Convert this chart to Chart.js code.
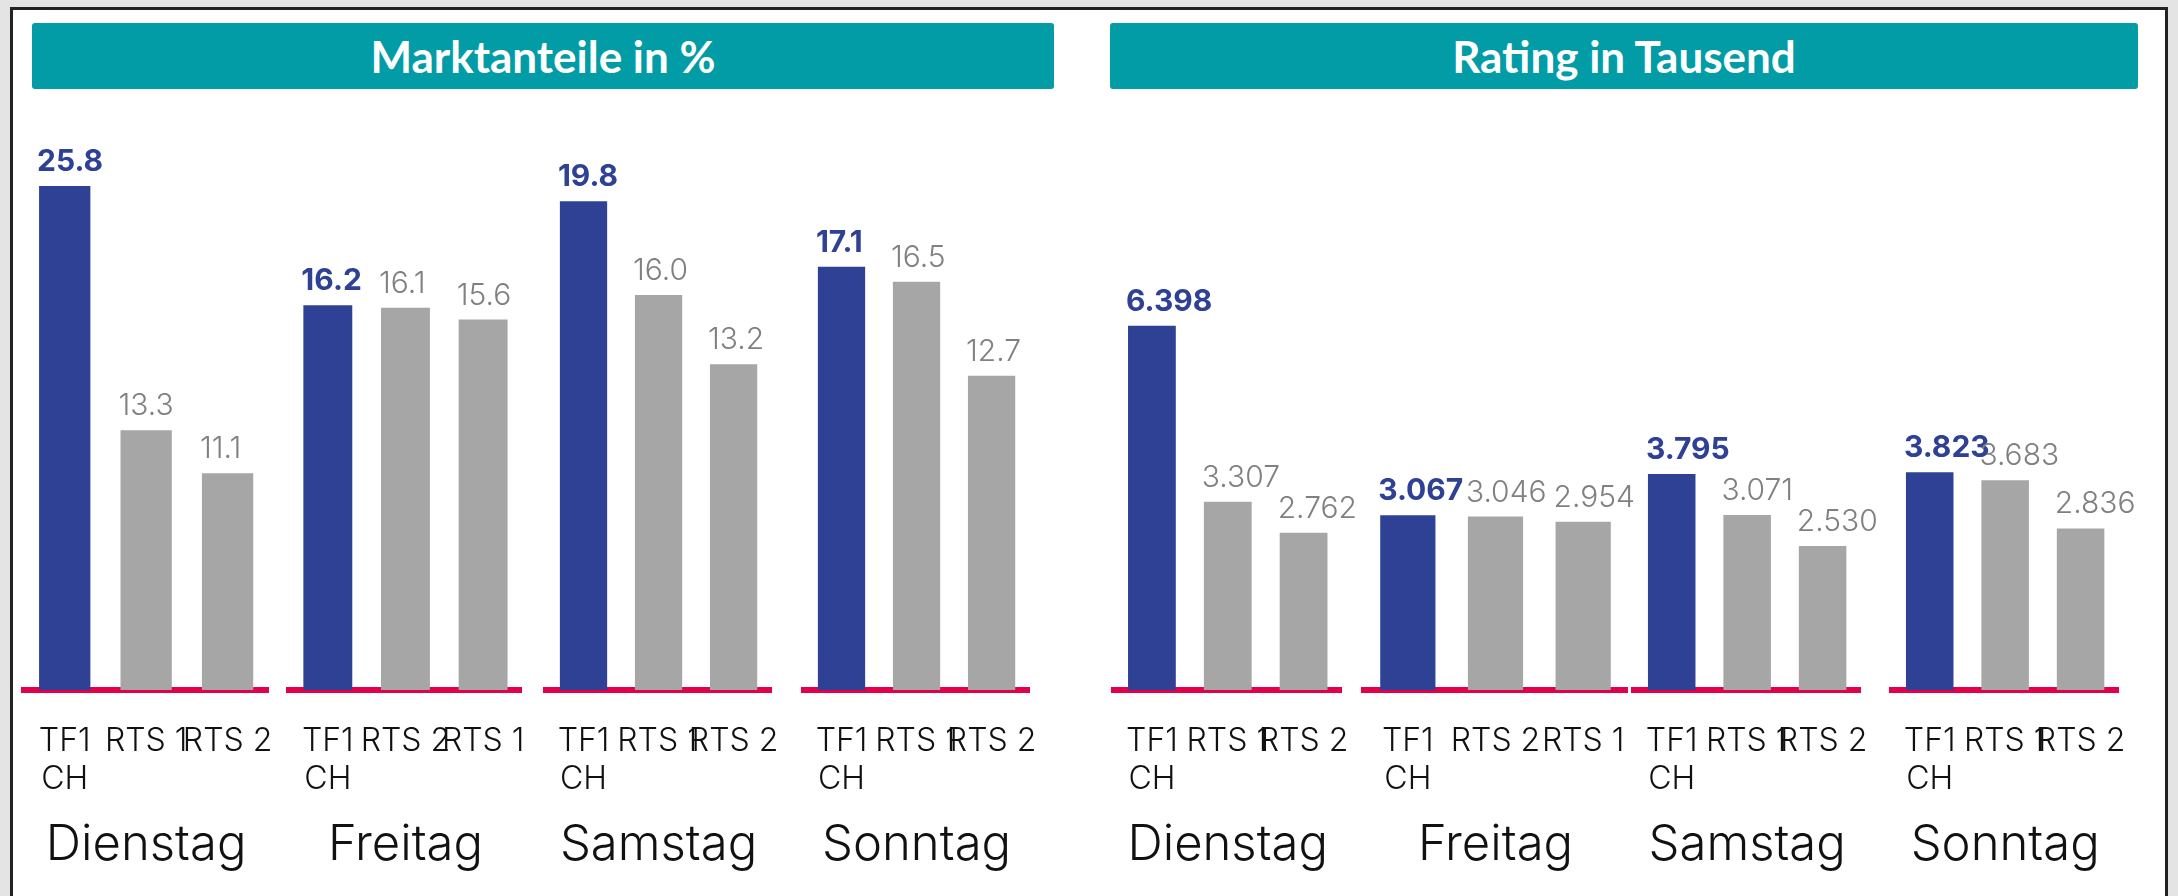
<!DOCTYPE html>
<html lang="de">
<head>
<meta charset="utf-8">
<title>Marktanteile und Rating</title>
<script src="https://cdn.jsdelivr.net/npm/chart.js@4.4.1/dist/chart.umd.min.js"></script>
<style>
  html, body { margin: 0; padding: 0; }
  body { width: 2178px; height: 896px; background: #e4e4e4; overflow: hidden; position: relative; font-family: Inter, sans-serif; }
  #rahmen { position: absolute; left: 10px; top: 7px; width: 2158px; height: 900px; background: #fff; border: 3px solid #222; box-sizing: border-box; }
  .kopf { position: absolute; top: 23px; height: 66px; background: #019ca6; border-radius: 3px; color: #fff; font: 700 44px Lato, sans-serif; display: flex; align-items: center; justify-content: center; }
  .box { position: absolute; top: 100px; height: 796px; }
  .box canvas { display: block; }
</style>
</head>
<body>
<div id="rahmen"></div>
<div class="kopf" style="left:32px; width:1022px;">Marktanteile in %</div>
<div class="kopf" style="left:1110px; width:1028px;">Rating in Tausend</div>
<script>
const tage = ['Dienstag', 'Freitag', 'Samstag', 'Sonntag'];
const sender = [
  [['TF1', 'CH'], 'RTS 1', 'RTS 2'],
  [['TF1', 'CH'], 'RTS 2', 'RTS 1'],
  [['TF1', 'CH'], 'RTS 1', 'RTS 2'],
  [['TF1', 'CH'], 'RTS 1', 'RTS 2']
];
const marktanteile = [[25.8, 13.3, 11.1], [16.2, 16.1, 15.6], [19.8, 16.0, 13.2], [17.1, 16.5, 12.7]];
const rating = [[6.398, 3.307, 2.762], [3.067, 3.046, 2.954], [3.795, 3.071, 2.530], [3.823, 3.683, 2.836]];
// im Original hat jeder Tag links eine eigene Skala
const maxAnteile = [30.2, 24.85, 23.9, 23.84];
const maxRating = [10.36, 10.36, 10.36, 10.36];

const blau = '#2e4195';
const grau = '#a6a6a6';
const rot = '#e2004a';

// x-Bereich (Achsenlinie) jedes Teildiagramms
const bereichLinks = [[24, 271], [289, 523], [546, 777], [804, 1035]];
const bereichRechts = [[1114, 1347], [1364, 1627], [1634, 1866], [1892, 2124]];

const wertePlugin = {
  id: 'werte',
  afterDatasetsDraw(chart, args, opts) {
    const ctx = chart.ctx;
    const werte = chart.data.datasets[0].data;
    ctx.save();
    chart.getDatasetMeta(0).data.forEach((bar, i) => {
      ctx.font = i === 0 ? '700 30px Inter' : '300 30px Inter';
      ctx.fillStyle = i === 0 ? blau : '#808080';
      ctx.textAlign = 'left';
      ctx.textBaseline = 'alphabetic';
      ctx.fillText(werte[i].toFixed(opts.nachkomma), bar.x - bar.width / 2 - 2, bar.y - 15);
    });
    ctx.restore();
  }
};

function teilDiagramm(bereich, tag, labels, werte, yMax, nachkomma) {
  const div = document.createElement('div');
  div.className = 'box';
  div.style.left = (bereich[0] - 40) + 'px';
  div.style.width = (bereich[1] - bereich[0] + 80) + 'px';
  const canvas = document.createElement('canvas');
  div.appendChild(canvas);
  document.body.appendChild(div);

  new Chart(canvas, {
    type: 'bar',
    data: {
      labels: labels,
      datasets: [{
        data: werte,
        backgroundColor: werte.map((v, i) => i === 0 ? blau : grau),
        barPercentage: 0.63,
        categoryPercentage: 1
      }]
    },
    options: {
      responsive: true,
      maintainAspectRatio: false,
      animation: false,
      layout: { padding: { left: 40, right: 40, top: 0, bottom: 0 } },
      plugins: {
        legend: { display: false },
        tooltip: { enabled: false },
        werte: { nachkomma: nachkomma }
      },
      scales: {
        x: {
          z: 1,
          grid: { display: false, drawTicks: false },
          border: { display: true, color: rot, width: 6 },
          ticks: {
            color: '#111',
            font: { family: 'Inter', size: 32, weight: 300 },
            padding: 32,
            maxRotation: 0,
            minRotation: 0,
            autoSkip: false
          },
          title: {
            display: true,
            text: tag,
            color: '#111',
            font: { family: 'Inter', size: 49, weight: 300 },
            padding: { top: 0, bottom: 21 }
          },
          afterFit(s) { s.height = 206; }
        },
        y: { display: false, min: 0, max: yMax }
      }
    },
    plugins: [wertePlugin]
  });
}

tage.forEach((tag, i) => {
  teilDiagramm(bereichLinks[i], tag, sender[i], marktanteile[i], maxAnteile[i], 1);
  teilDiagramm(bereichRechts[i], tag, sender[i], rating[i], maxRating[i], 3);
});
</script>
</body>
</html>
